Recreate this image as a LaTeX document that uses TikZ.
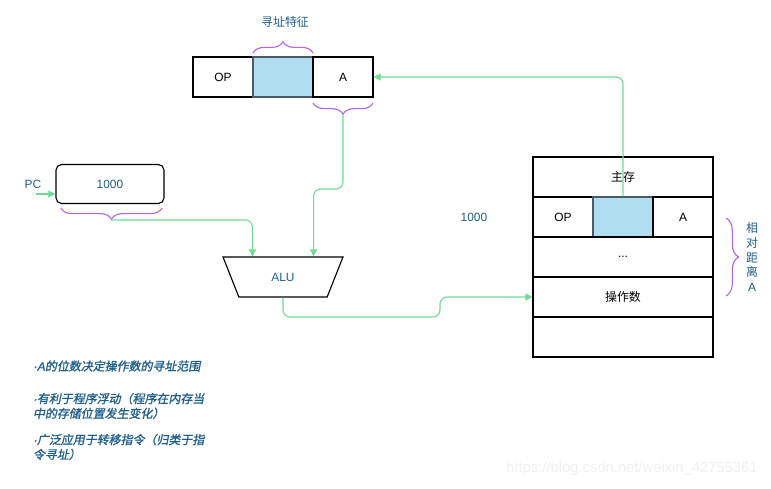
\documentclass[tikz,border=0pt]{standalone}
\usepackage{fontspec}
\setmainfont{Liberation Sans}
\newfontfamily\cjk{Noto Sans CJK SC}
\newfontfamily\cjknote[FakeSlant=0.2,FakeBold=1.2]{Noto Sans CJK SC}
\newfontfamily\latnote[FakeSlant=0.2,FakeBold=1.2]{Liberation Sans}
\newcommand{\notedot}{{\latnote ·}}
\usetikzlibrary{shapes.geometric, decorations.pathreplacing, arrows.meta}

\definecolor{linkgreen}{HTML}{6FDB95}
\definecolor{bracepurple}{HTML}{B266E6}
\definecolor{addrblue}{HTML}{B1DDF0}
\definecolor{cellgray}{HTML}{4A5A66}
\definecolor{labelblue}{HTML}{1F5E8C}

\begin{document}
\begin{tikzpicture}[x=0.025cm, y=-0.025cm,
  every node/.style={font=\fontsize{8.5}{10.5}\selectfont},
  cell/.style={draw, line width=0.8pt, minimum width=1.5cm, minimum height=1cm, inner sep=0pt},
  addr/.style={cell, fill=addrblue, draw=cellgray},
  row/.style={draw, line width=0.8pt, minimum width=4.5cm, minimum height=1cm, inner sep=0pt},
  pcbox/.style={draw, line width=0.8pt, rounded corners=4pt, minimum width=2.7cm, minimum height=0.975cm, inner sep=0pt},
  alubox/.style={draw, line width=0.8pt, trapezium, shape border rotate=180, trapezium stretches=true,
    trapezium angle=63.43, minimum width=3cm, minimum height=1cm, inner sep=0pt},
  link/.style={draw=linkgreen, line width=0.8pt, rounded corners=5pt, -{Triangle[width=5pt,length=5pt]}},
  curly/.style={draw=bracepurple, line width=0.8pt, decorate, decoration={brace, amplitude=#1}},
  bluetext/.style={text=labelblue},
  note/.style={text=labelblue, anchor=west, align=left, font=\fontsize{8.5}{10.5}\cjknote}]

\useasboundingbox (0,0) rectangle (771,488);

% instruction word
\node[cell] (op) at (223,77) {OP};
\node[addr] (mode) at (283,77) {};
\node[cell] (a) at (343,77) {A};
\node[bluetext] (modelbl) at (285,22) {\cjk 寻址特征};
\draw[curly=8pt] (253,53) -- (313,53);
\draw[curly=8pt] (373,103) -- (313,103);
\coordinate (atip) at (343,114);

% PC
\node[pcbox] (pc) at (110,184) {\textcolor{labelblue}{1000}};
\node[bluetext] (pclbl) at (33,184) {PC};
\coordinate (pcfrom) at (36,194);
\draw[link] (pcfrom) -- (pc.west |- pcfrom);
\draw[curly=8pt] (162,208) -- (61,208);
\coordinate (pctip) at (111,220);

% ALU
\node[alubox] (alu) at (283,277) {\textcolor{labelblue}{ALU}};

% main memory
\node[row] (mainmem) at (623,177) {\cjk 主存};
\node[cell] (mop) at (563,217) {OP};
\node[addr] (mmode) at (623,217) {};
\node[cell] (ma) at (683,217) {A};
\node[row] (dots) at (623,257) {...};
\node[row] (operand) at (623,297) {\cjk 操作数};
\node[row] (spare) at (623,337) {};
\node[bluetext] (pcval) at (474,217) {1000};
\draw[curly=9pt] (726,218) -- (726,296);
\node[bluetext, align=center] (dist) at (752,257) {\cjk 相\\\cjk 对\\\cjk 距\\\cjk 离\\A};

% connectors
\draw[link] (atip) -- (343,189) -| (mode.east |- alu.north);
\draw[link] (pctip) -| (mode.west |- alu.north);
\draw[link] (alu.south) |- (440,317) |- (operand.west);
\draw[link] (mmode.north) |- (a.east);

% notes
\node[note] (note1) at (28,366) {\notedot{\latnote A}的位数决定操作数的寻址范围};
\node[note] (note2) at (28,406) {\notedot 有利于程序浮动（程序在内存当\\中的存储位置发生变化）};
\node[note] (note3) at (28,447) {\notedot 广泛应用于转移指令（归类于指\\令寻址）};

\node[text=gray!12, font=\fontsize{10.5}{12}\selectfont] (mark) at (632,469) {https://blog.csdn.net/weixin\_42755361};
\end{tikzpicture}
\end{document}
